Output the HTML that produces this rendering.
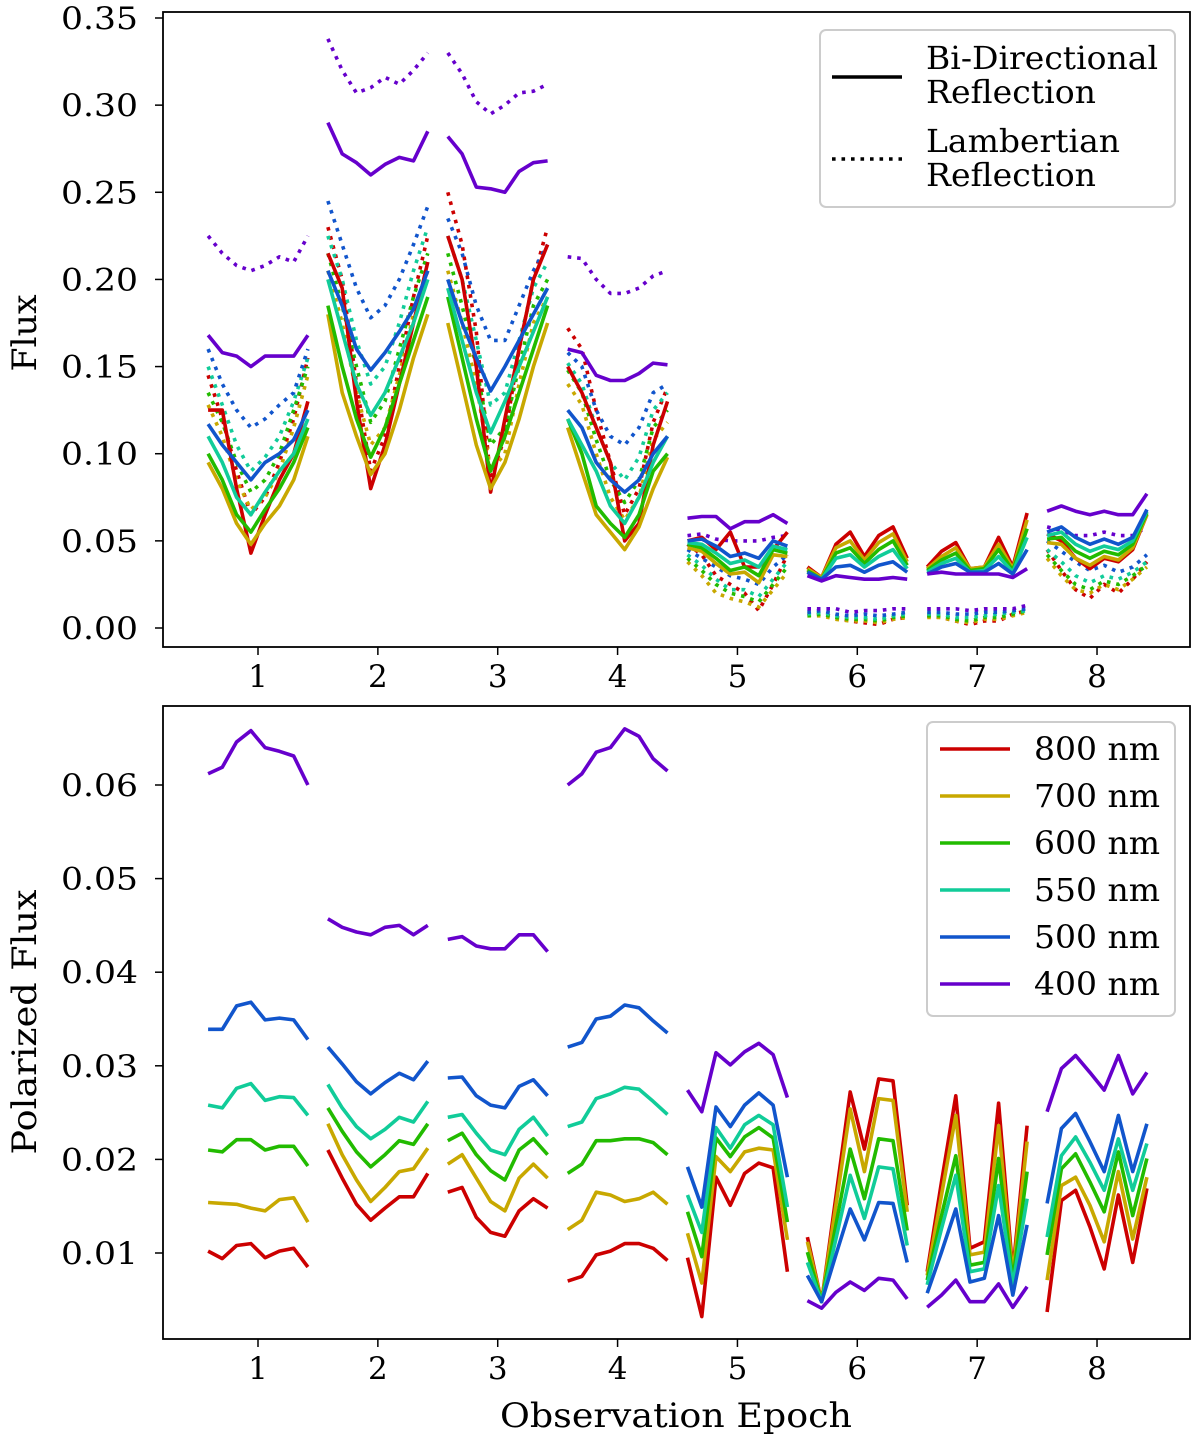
<!DOCTYPE html>
<html><head><meta charset="utf-8">
<style>
body{margin:0;background:#fff;}
svg{display:block;font-family:"DejaVu Serif","Liberation Serif",serif;}
</style></head>
<body>
<svg id="chart" width="1200" height="1444" viewBox="0 0 1200 1444">
<g id="top"></g>
<g id="bot"></g>
</svg>
<script>
const epochs = [1,2,3,4,5,6,7,8];
const wavelengths = ["800 nm","700 nm","600 nm","550 nm","500 nm","400 nm"];
const colors = ["#cc0000","#c8a800","#22bb00","#11cc99","#1155cc","#6600cc"];
const fluxTicks = [0.00,0.05,0.10,0.15,0.20,0.25,0.30,0.35];
const polTicks = [0.01,0.02,0.03,0.04,0.05,0.06];

const fluxSolid800 = [[0.125,0.125,0.080,0.043,0.065,0.085,0.100,0.130],[0.215,0.195,0.130,0.080,0.105,0.140,0.175,0.210],[0.225,0.200,0.150,0.078,0.120,0.160,0.200,0.220],[0.150,0.135,0.115,0.095,0.050,0.060,0.105,0.130],[0.050,0.052,0.045,0.055,0.035,0.035,0.045,0.055],[0.035,0.029,0.048,0.055,0.041,0.053,0.058,0.040],[0.035,0.044,0.049,0.034,0.035,0.052,0.035,0.066],[0.054,0.050,0.040,0.034,0.040,0.038,0.045,0.065]];
const fluxSolid700 = [[0.095,0.080,0.060,0.048,0.060,0.070,0.085,0.110],[0.180,0.135,0.110,0.088,0.100,0.125,0.155,0.180],[0.175,0.140,0.105,0.080,0.095,0.120,0.150,0.175],[0.115,0.090,0.065,0.055,0.045,0.058,0.080,0.098],[0.046,0.044,0.037,0.031,0.032,0.026,0.042,0.041],[0.034,0.029,0.046,0.050,0.039,0.049,0.054,0.038],[0.034,0.041,0.046,0.034,0.035,0.048,0.034,0.062],[0.049,0.048,0.040,0.036,0.041,0.039,0.046,0.065]];
const fluxSolid600 = [[0.100,0.085,0.065,0.055,0.068,0.080,0.095,0.115],[0.185,0.150,0.120,0.098,0.115,0.140,0.165,0.190],[0.190,0.155,0.120,0.090,0.110,0.135,0.160,0.185],[0.120,0.100,0.070,0.060,0.052,0.065,0.090,0.100],[0.048,0.046,0.040,0.033,0.035,0.030,0.045,0.043],[0.033,0.028,0.043,0.046,0.037,0.045,0.050,0.036],[0.033,0.039,0.043,0.033,0.034,0.045,0.033,0.057],[0.051,0.052,0.044,0.040,0.044,0.042,0.048,0.066]];
const fluxSolid550 = [[0.110,0.095,0.075,0.065,0.078,0.090,0.100,0.120],[0.200,0.170,0.140,0.122,0.135,0.155,0.175,0.200],[0.195,0.165,0.135,0.112,0.130,0.150,0.170,0.190],[0.120,0.105,0.090,0.070,0.060,0.075,0.095,0.110],[0.049,0.048,0.043,0.037,0.039,0.035,0.047,0.045],[0.032,0.028,0.040,0.042,0.035,0.041,0.045,0.034],[0.032,0.037,0.040,0.032,0.033,0.041,0.032,0.052],[0.053,0.055,0.048,0.044,0.047,0.045,0.050,0.067]];
const fluxSolid500 = [[0.117,0.105,0.095,0.085,0.095,0.100,0.108,0.125],[0.205,0.185,0.160,0.148,0.158,0.170,0.183,0.205],[0.200,0.175,0.155,0.136,0.150,0.165,0.180,0.195],[0.125,0.115,0.095,0.085,0.078,0.085,0.100,0.110],[0.050,0.051,0.047,0.041,0.043,0.040,0.050,0.047],[0.032,0.028,0.035,0.036,0.032,0.036,0.038,0.032],[0.031,0.035,0.037,0.032,0.032,0.037,0.031,0.045],[0.055,0.058,0.052,0.048,0.051,0.048,0.052,0.068]];
const fluxSolid400 = [[0.168,0.158,0.156,0.150,0.156,0.156,0.156,0.168],[0.290,0.272,0.267,0.260,0.266,0.270,0.268,0.285],[0.282,0.272,0.253,0.252,0.250,0.262,0.267,0.268],[0.160,0.158,0.145,0.142,0.142,0.146,0.152,0.151],[0.063,0.064,0.064,0.057,0.061,0.061,0.065,0.060],[0.030,0.027,0.030,0.029,0.028,0.028,0.029,0.028],[0.031,0.032,0.031,0.031,0.031,0.031,0.029,0.034],[0.067,0.070,0.067,0.065,0.067,0.065,0.065,0.077]];

const fluxDot800 = [[0.145,0.120,0.090,0.065,0.075,0.095,0.120,0.155],[0.230,0.200,0.140,0.090,0.110,0.150,0.190,0.225],[0.250,0.220,0.170,0.085,0.110,0.160,0.200,0.230],[0.172,0.160,0.125,0.095,0.065,0.080,0.118,0.138],[0.048,0.042,0.030,0.025,0.020,0.010,0.025,0.042],[0.008,0.008,0.006,0.004,0.003,0.002,0.005,0.006],[0.007,0.006,0.004,0.002,0.004,0.004,0.008,0.010],[0.045,0.033,0.022,0.017,0.025,0.020,0.028,0.038]];
const fluxDot700 = [[0.128,0.110,0.085,0.068,0.075,0.090,0.115,0.145],[0.205,0.175,0.135,0.105,0.115,0.145,0.180,0.205],[0.205,0.175,0.140,0.090,0.100,0.140,0.175,0.190],[0.140,0.128,0.100,0.075,0.062,0.075,0.108,0.118],[0.038,0.030,0.020,0.017,0.015,0.012,0.022,0.032],[0.007,0.007,0.005,0.004,0.004,0.003,0.005,0.006],[0.006,0.006,0.004,0.003,0.005,0.005,0.007,0.009],[0.040,0.030,0.022,0.020,0.025,0.022,0.028,0.035]];
const fluxDot600 = [[0.135,0.118,0.095,0.078,0.085,0.100,0.125,0.150],[0.215,0.185,0.150,0.118,0.130,0.160,0.190,0.215],[0.215,0.185,0.150,0.105,0.115,0.150,0.185,0.200],[0.148,0.135,0.108,0.085,0.072,0.085,0.115,0.125],[0.040,0.033,0.025,0.020,0.018,0.015,0.025,0.035],[0.007,0.008,0.006,0.005,0.005,0.004,0.006,0.007],[0.007,0.007,0.005,0.004,0.006,0.006,0.008,0.010],[0.042,0.033,0.025,0.022,0.027,0.025,0.030,0.036]];
const fluxDot550 = [[0.150,0.128,0.105,0.090,0.098,0.110,0.130,0.155],[0.225,0.200,0.165,0.140,0.150,0.175,0.205,0.230],[0.225,0.200,0.165,0.128,0.135,0.165,0.195,0.210],[0.152,0.140,0.115,0.095,0.085,0.098,0.125,0.135],[0.042,0.036,0.028,0.022,0.022,0.018,0.028,0.038],[0.008,0.009,0.007,0.006,0.006,0.005,0.007,0.008],[0.008,0.008,0.006,0.006,0.007,0.008,0.009,0.010],[0.045,0.038,0.030,0.026,0.030,0.028,0.032,0.038]];
const fluxDot500 = [[0.160,0.140,0.125,0.115,0.120,0.128,0.135,0.160],[0.245,0.220,0.195,0.178,0.185,0.200,0.220,0.242],[0.235,0.215,0.185,0.165,0.165,0.185,0.205,0.220],[0.158,0.150,0.125,0.110,0.105,0.115,0.135,0.140],[0.045,0.040,0.035,0.030,0.028,0.025,0.035,0.042],[0.009,0.010,0.008,0.007,0.008,0.007,0.008,0.009],[0.009,0.009,0.008,0.008,0.009,0.009,0.010,0.011],[0.050,0.044,0.038,0.033,0.036,0.032,0.035,0.042]];
const fluxDot400 = [[0.225,0.215,0.208,0.205,0.208,0.213,0.210,0.225],[0.338,0.320,0.307,0.310,0.316,0.312,0.320,0.330],[0.330,0.318,0.302,0.295,0.300,0.307,0.308,0.312],[0.213,0.212,0.200,0.192,0.192,0.195,0.202,0.205],[0.053,0.054,0.051,0.050,0.050,0.050,0.052,0.053],[0.011,0.011,0.011,0.009,0.010,0.010,0.011,0.011],[0.011,0.011,0.011,0.010,0.011,0.011,0.011,0.013],[0.058,0.056,0.053,0.053,0.055,0.053,0.053,0.058]];

const pol800 = [[0.0102,0.0094,0.0108,0.0110,0.0095,0.0102,0.0105,0.0085],[0.0210,0.0180,0.0152,0.0135,0.0148,0.0160,0.0160,0.0185],[0.0165,0.0170,0.0138,0.0122,0.0118,0.0145,0.0158,0.0148],[0.0070,0.0075,0.0098,0.0102,0.0110,0.0110,0.0105,0.0092],[0.0095,0.0032,0.0181,0.0151,0.0185,0.0196,0.0191,0.0080],[0.0117,0.0048,0.0160,0.0272,0.0211,0.0286,0.0284,0.0151],[0.0080,0.0176,0.0268,0.0105,0.0112,0.0260,0.0080,0.0236],[0.0037,0.0156,0.0167,0.0128,0.0083,0.0162,0.0090,0.0169]];
const pol700 = [[0.0154,0.0153,0.0152,0.0148,0.0145,0.0157,0.0159,0.0133],[0.0238,0.0205,0.0178,0.0155,0.0170,0.0187,0.0190,0.0212],[0.0195,0.0205,0.0180,0.0155,0.0145,0.0180,0.0195,0.0180],[0.0125,0.0135,0.0165,0.0162,0.0155,0.0158,0.0165,0.0152],[0.0121,0.0068,0.0203,0.0187,0.0208,0.0212,0.0210,0.0114],[0.0112,0.0048,0.0151,0.0254,0.0187,0.0265,0.0263,0.0144],[0.0076,0.0162,0.0247,0.0098,0.0101,0.0236,0.0076,0.0219],[0.0071,0.0172,0.0181,0.0151,0.0112,0.0187,0.0115,0.0181]];
const pol600 = [[0.0210,0.0208,0.0221,0.0221,0.0210,0.0214,0.0214,0.0193],[0.0255,0.0230,0.0208,0.0192,0.0205,0.0220,0.0216,0.0238],[0.0220,0.0228,0.0205,0.0188,0.0178,0.0210,0.0222,0.0205],[0.0185,0.0195,0.0220,0.0220,0.0222,0.0222,0.0218,0.0205],[0.0144,0.0096,0.0223,0.0203,0.0224,0.0234,0.0223,0.0133],[0.0101,0.0048,0.0130,0.0211,0.0158,0.0222,0.0220,0.0124],[0.0071,0.0140,0.0204,0.0087,0.0090,0.0201,0.0071,0.0187],[0.0098,0.0190,0.0206,0.0176,0.0144,0.0208,0.0140,0.0201]];
const pol550 = [[0.0258,0.0255,0.0276,0.0281,0.0263,0.0267,0.0266,0.0247],[0.0280,0.0255,0.0235,0.0222,0.0232,0.0245,0.0240,0.0262],[0.0245,0.0248,0.0228,0.0210,0.0205,0.0232,0.0245,0.0225],[0.0235,0.0240,0.0265,0.0270,0.0277,0.0275,0.0262,0.0248],[0.0162,0.0122,0.0234,0.0212,0.0237,0.0247,0.0237,0.0149],[0.0090,0.0048,0.0115,0.0183,0.0137,0.0192,0.0190,0.0108],[0.0066,0.0126,0.0183,0.0080,0.0083,0.0172,0.0066,0.0158],[0.0117,0.0204,0.0224,0.0197,0.0167,0.0222,0.0167,0.0217]];
const pol500 = [[0.0339,0.0339,0.0364,0.0368,0.0349,0.0351,0.0349,0.0328],[0.0320,0.0302,0.0283,0.0270,0.0282,0.0292,0.0285,0.0305],[0.0287,0.0288,0.0268,0.0258,0.0255,0.0278,0.0285,0.0268],[0.0320,0.0325,0.0350,0.0353,0.0365,0.0362,0.0348,0.0335],[0.0192,0.0149,0.0256,0.0235,0.0258,0.0271,0.0258,0.0181],[0.0076,0.0048,0.0098,0.0147,0.0114,0.0154,0.0153,0.0090],[0.0057,0.0101,0.0147,0.0069,0.0073,0.0140,0.0055,0.0130],[0.0153,0.0233,0.0249,0.0219,0.0187,0.0247,0.0187,0.0238]];
const pol400 = [[0.0612,0.0619,0.0646,0.0658,0.0640,0.0636,0.0631,0.0600],[0.0457,0.0448,0.0443,0.0440,0.0448,0.0450,0.0440,0.0450],[0.0435,0.0438,0.0428,0.0425,0.0425,0.0440,0.0440,0.0422],[0.0600,0.0612,0.0635,0.0640,0.0660,0.0652,0.0628,0.0615],[0.0274,0.0251,0.0314,0.0301,0.0315,0.0324,0.0312,0.0266],[0.0049,0.0041,0.0058,0.0069,0.0060,0.0073,0.0071,0.0051],[0.0042,0.0055,0.0071,0.0048,0.0048,0.0067,0.0042,0.0064],[0.0251,0.0297,0.0311,0.0293,0.0274,0.0311,0.0270,0.0293]];

const fluxSolid = [fluxSolid800,fluxSolid700,fluxSolid600,fluxSolid550,fluxSolid500,fluxSolid400];
const fluxDot = [fluxDot800,fluxDot700,fluxDot600,fluxDot550,fluxDot500,fluxDot400];
const pol = [pol800,pol700,pol600,pol550,pol500,pol400];

const NS = "http://www.w3.org/2000/svg";
function mk(tag, attrs, parent){ const e=document.createElementNS(NS,tag); for(const k in attrs) e.setAttribute(k,attrs[k]); parent.appendChild(e); return e; }

const L=163, R=1190;
const xScale = x => 258 + (x-1)*119.86;
const topP = {t:12,b:647, y: v => 628 - v*(610/0.35)};
const botP = {t:706,b:1339, y: v => 1253 - (v-0.01)*9360};
function offset(i){ return (i-3.5)*0.119; }

function drawPanel(g, P, ticks, fmt, ylabel, ylabelY, ylabelLen){
  const frame = mk('rect',{x:L,y:P.t,width:R-L,height:P.b-P.t,fill:'none',stroke:'#000','stroke-width':1.8},g);
  
  
  ticks.forEach(t=>{
    const y=P.y(t);
    const tk=mk('line',{x1:L-8,x2:L,y1:y,y2:y,stroke:'#000','stroke-width':1.5},g);
    
    
    const tx=mk('text',{x:138,y:y+11,'text-anchor':'end','font-size':31,textLength:77,lengthAdjust:'spacingAndGlyphs'},g);
    tx.textContent=fmt(t);
    
    
  });
  epochs.forEach(e=>{
    const x=xScale(e);
    const tk=mk('line',{x1:x,x2:x,y1:P.b,y2:P.b+8,stroke:'#000','stroke-width':1.5},g);
    
    
    const tx=mk('text',{x:x,y:P.b+40,'text-anchor':'middle','font-size':31},g);
    tx.textContent=String(e);
    
    
  });
  const yl=mk('text',{x:0,y:0,'text-anchor':'middle','font-size':34,textLength:ylabelLen,lengthAdjust:'spacingAndGlyphs',transform:`translate(36,${ylabelY}) rotate(-90)`},g);
  yl.textContent=ylabel;
  
  
}

function drawSeries(g, P, sets, dotted, namePrefix){
  sets.forEach((ws,wi)=>{
    ws.forEach((pts,ei)=>{
      const d=pts.map((v,i)=>(i?'L':'M')+xScale(epochs[ei]+offset(i)).toFixed(1)+','+P.y(v).toFixed(1)).join(' ');
      const attrs={d:d,fill:'none',stroke:colors[wi],'stroke-width':3.6,'stroke-linejoin':'round'};
      if(dotted){attrs['stroke-dasharray']='3.6,5.9';}
      const p=mk('path',attrs,g);
      
      
    });
  });
}

const gt=document.getElementById('top'), gb=document.getElementById('bot');
drawPanel(gt, topP, fluxTicks, t=>t.toFixed(2), 'Flux', 333, 77);
drawSeries(gt, topP, fluxDot, true, 'lambertian-line');
drawSeries(gt, topP, fluxSolid, false, 'bidirectional-line');
drawPanel(gb, botP, polTicks, t=>t.toFixed(2), 'Polarized Flux', 1022, 265);
drawSeries(gb, botP, pol, false, 'polarized-line');

const xl=mk('text',{x:676,y:1427,'text-anchor':'middle','font-size':34,textLength:352,lengthAdjust:'spacingAndGlyphs'},gb);
xl.textContent='Observation Epoch';



const lg1=mk('g',{},gt);


mk('rect',{x:820,y:30,width:355,height:177,rx:6,fill:'#fff','fill-opacity':0.85,stroke:'#ccc','stroke-width':2},lg1);
mk('line',{x1:832,x2:902,y1:77,y2:77,stroke:'#000','stroke-width':3.6},lg1);
mk('line',{x1:832,x2:902,y1:159,y2:159,stroke:'#000','stroke-width':3.6,'stroke-dasharray':'3.6,5.9'},lg1);
[['Bi-Directional',69,232],['Reflection',103,170],['Lambertian',152,194],['Reflection',186,170]].forEach(([s,y,len])=>{
  const t=mk('text',{x:926,y:y,'font-size':32,textLength:len,lengthAdjust:'spacingAndGlyphs'},lg1);
  t.textContent=s;
  
  
});

const lg2=mk('g',{},gb);


mk('rect',{x:927,y:722,width:248,height:294,rx:6,fill:'#fff','fill-opacity':0.85,stroke:'#ccc','stroke-width':2},lg2);
wavelengths.forEach((w,i)=>{
  const y=749+i*47;
  const ln=mk('line',{x1:940,x2:1010,y1:y,y2:y,stroke:colors[i],'stroke-width':3.6},lg2);
  
  
  const t=mk('text',{x:1034,y:y+11,'font-size':32,textLength:126,lengthAdjust:'spacingAndGlyphs'},lg2);
  t.textContent=w;
  
  
});
</script>
</body></html>
